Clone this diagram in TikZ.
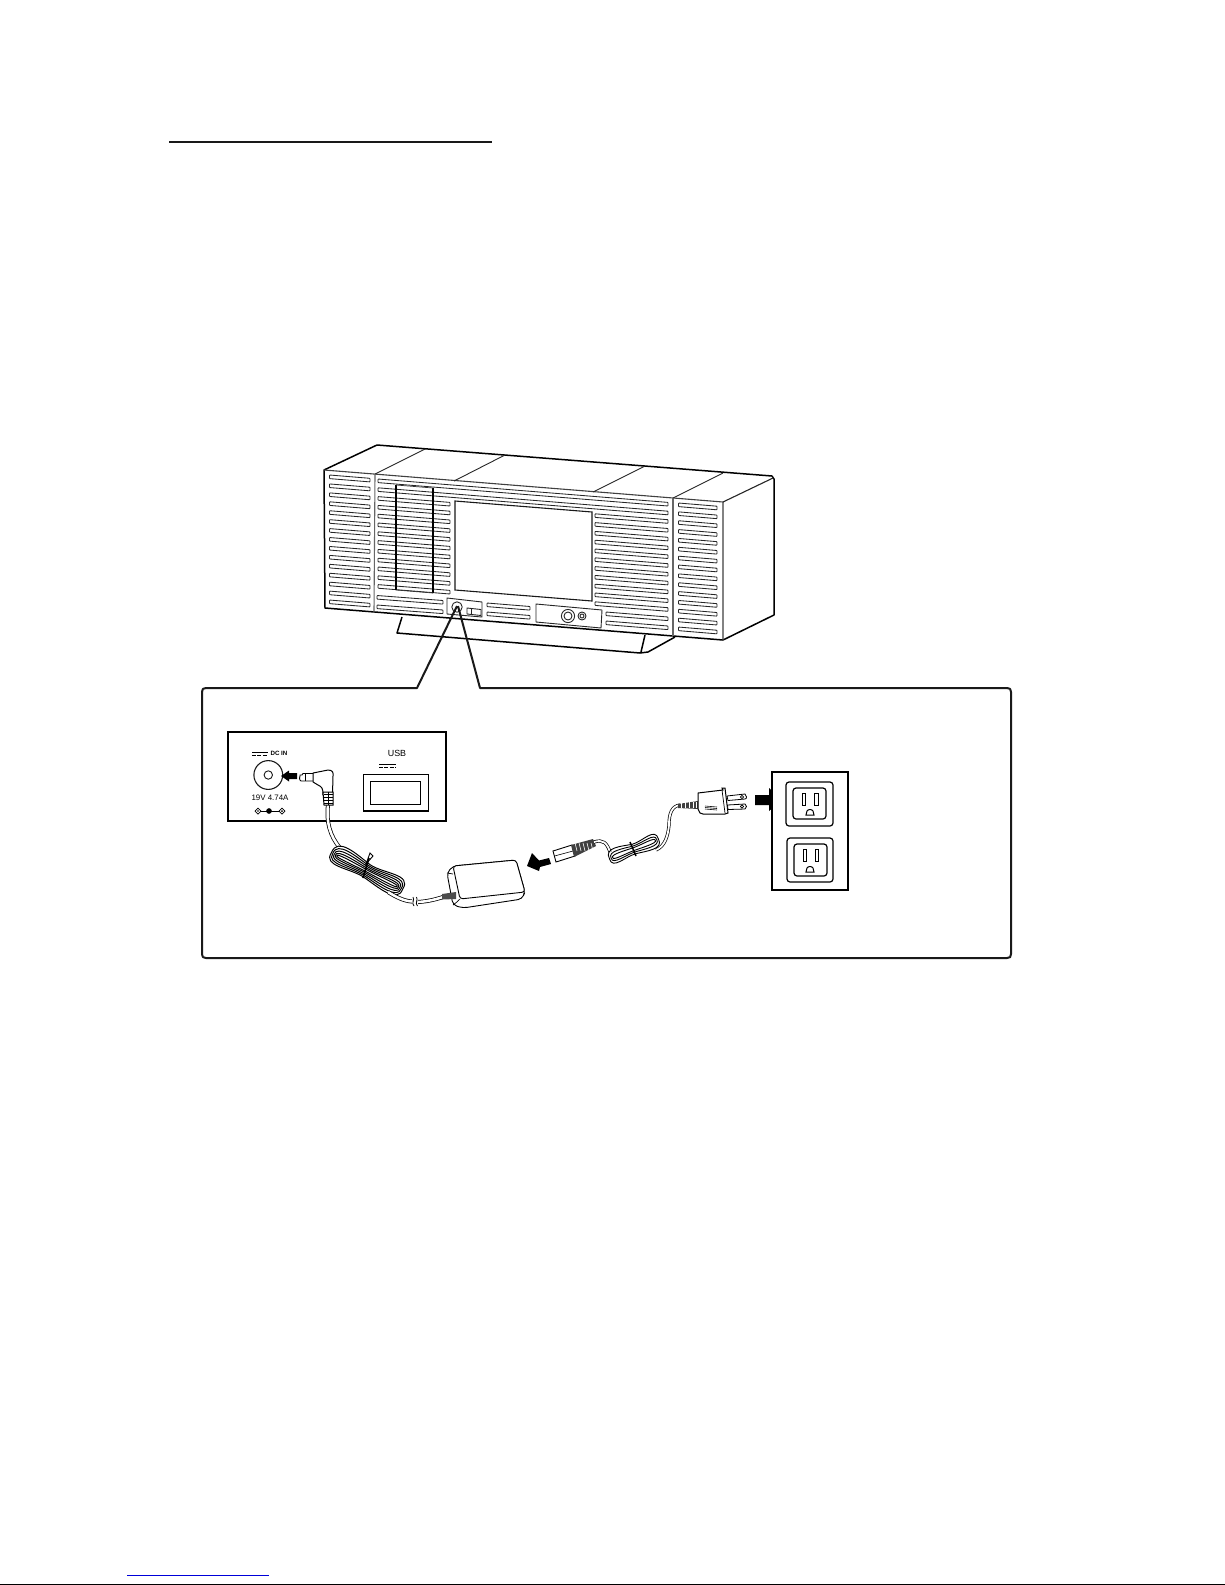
\documentclass[tikz,border=0pt]{standalone}
\usepackage{fontspec}
\setmainfont{Liberation Sans}
\tikzset{
  outline/.style={line width=0.75pt,color=black,line join=round},
  thinline/.style={line width=0.45pt,color=black!85,line join=round},
  slotline/.style={line width=0.42pt,color=black!85,fill=white,rounded corners=0.3pt},
  frameline/.style={line width=1pt,color=black!90,line join=round},
  cablewire/.style={double=white,double distance=1.25pt,line width=0.38pt,color=black},
  thincable/.style={double=white,double distance=0.9pt,line width=0.35pt,color=black},
  blockarrow/.style={fill=black,draw=none},
  label/.style={inner sep=0pt,text=black},
  hatch/.style={line width=0.3pt,color=black}
}
\newcommand{\slotat}[4]{\draw[slotline] (#1,#2) -- (#3,#4) -- (#3,#4+3.6) -- (#1,#2+3.6) -- cycle;}
\newcommand{\strand}{(-40,0) .. controls (-42,-18) and (-16,-10) .. (0,-7) .. controls (16,-5) and (42,-18) .. (40,0) .. controls (42,16) and (16,9) .. (0,7) .. controls (-16,5) and (-42,16) .. (-40,0) -- cycle}
\begin{document}
\begin{tikzpicture}[x=0.5pt,y=-0.5pt]
\useasboundingbox (0,0) rectangle (1225,1585);
% title rule and page-foot marks
\draw[line width=0.6pt,color=black!90] (169,142) -- (492,142);
\draw[line width=0.5pt,color=blue!85!black] (127,1575) -- (269,1575);
\draw[line width=0.5pt,color=black] (0,1584.5) -- (1225,1584.5);

% ---- stand (behind the body) ----
\draw[outline] (402,617) -- (397,633) -- (640,653) -- (648,652) -- (675,637);
\draw[outline] (645,635) -- (641,652);

% ---- body ----
\draw[outline,fill=white] (324,470) -- (377,445) -- (772,476) -- (774,479) -- (774,615) -- (723,640) -- (325,608) -- cycle;
\draw[line width=0.55pt,color=black!75] (324,470) -- (723,502) -- (723,640);
\draw[line width=0.55pt,color=black!85] (723,502) -- (773,478);
\draw[line width=0.55pt,color=black!60] (375,474) -- (374,612);
\draw[line width=0.55pt,color=black!60] (673,498) -- (673,636);
\draw[thinline] (375,474) -- (425,449);
\draw[thinline] (454,481) -- (505,455);
\draw[thinline] (593,492) -- (645,466);
\draw[thinline] (673,498) -- (723,473);
% side-column slots
\foreach \k in {0,...,14}{
  \pgfmathsetmacro{\ya}{475+8.93*\k}
  \pgfmathsetmacro{\yb}{\ya+3.3}
  \slotat{329.5}{\ya}{370}{\yb}
  \pgfmathsetmacro{\yc}{503+8.86*\k}
  \pgfmathsetmacro{\yd}{\yc+3.2}
  \slotat{678.5}{\yc}{717}{\yd}
}
% long rows
\foreach \k in {0,1}{
  \pgfmathsetmacro{\ya}{479+8.8*\k}
  \pgfmathsetmacro{\yb}{\ya+23.4}
  \slotat{378}{\ya}{668}{\yb}
}
% rows left and right of the screen
\foreach \k in {2,...,12}{
  \pgfmathsetmacro{\ya}{479+8.8*\k}
  \pgfmathsetmacro{\yb}{\ya+5.8}
  \slotat{378}{\ya}{450}{\yb}
  \pgfmathsetmacro{\yc}{\ya+17.2}
  \pgfmathsetmacro{\yd}{\yc+5.9}
  \slotat{595}{\yc}{668}{\yd}
}
% lower rows
\slotat{377}{595.5}{443}{600.5}
\slotat{377}{605}{443}{610}
\slotat{606}{612}{668}{617}
\slotat{606}{621}{668}{626}
\slotat{487}{603}{530}{606.5}
\slotat{487}{612}{530}{615.5}
% door outline over the left rows
\draw[line width=0.6pt,color=black] (396,485) -- (396,590);
\draw[line width=0.6pt,color=black] (433,488) -- (433,593);
\draw[line width=0.35pt,color=black!80] (396,485) -- (433,488);
\draw[line width=0.35pt,color=black!80] (396,590) -- (433,593);
% screen
\draw[line width=0.55pt,color=black!90,fill=white] (455,501) -- (592,512) -- (592,601) -- (455,590) -- cycle;
% small panels
\draw[thinline,fill=white] (447,598) -- (482,602) -- (482,617) -- (447,614) -- cycle;
\draw[thinline] (457,607) circle[radius=2.6pt];
\draw[thinline] (467,608) -- (481,609.5) -- (481,615.5) -- (467,614) -- cycle;
\draw[thinline] (471,608.5) -- (471,614.5);
\draw[thinline,fill=white] (536,604) -- (602,610) -- (601,628) -- (536,622) -- cycle;
\draw[thinline] (568,616) circle[radius=3.3pt];
\draw[thinline] (568,616) circle[radius=2pt];
\draw[thinline] (582,616) circle[radius=2pt];
\draw[thinline] (582,616) circle[radius=1pt];

% ---- call-out frame ----
\draw[frameline] (457,606) -- (417,688) -- (206,688) .. controls (203,688) and (202,689) .. (202,692) -- (202,954)
  .. controls (202,957) and (203,958) .. (206,958) -- (1007,958) .. controls (1010,958) and (1011,957) .. (1011,954)
  -- (1011,692) .. controls (1011,689) and (1010,688) .. (1007,688) -- (480,688) -- (458,606);

% ---- DC IN / USB panel ----
\draw[line width=1pt,color=black] (228,732) rectangle (446,821);
\draw[line width=0.4pt] (252,752.7) -- (268,752.7);
\draw[line width=0.4pt,dash pattern=on 2pt off 0.7pt] (252,755.5) -- (268,755.5);
\node[label,font=\bfseries\fontsize{3.1}{3.5}\selectfont] (dcin) at (279,753) {DC IN};
\draw[line width=0.55pt,color=black!90] (268.3,775) circle[radius=7.2pt];
\draw[line width=0.45pt,color=black!90] (268.3,775) circle[radius=2.1pt];
\node[label,font=\fontsize{3.95}{4.5}\selectfont] (rating) at (270,798) {19V 4.74A};
\draw[line width=0.35pt] (258,811) -- (282,811);
\draw[line width=0.35pt,fill=white] (258,808) -- (261,811) -- (258,814) -- (255,811) -- cycle;
\draw[line width=0.35pt,fill=white] (282,808) -- (285,811) -- (282,814) -- (279,811) -- cycle;
\fill (258,811) circle[radius=0.4pt];
\fill (282,811) circle[radius=0.5pt];
\draw[line width=0.35pt,fill=black] (269,811) circle[radius=1.2pt];

\node[label,font=\fontsize{4.45}{5}\selectfont] (usb) at (397,753.5) {USB};
\draw[line width=0.4pt] (379,764) -- (396,764);
\draw[line width=0.4pt,dash pattern=on 2pt off 0.7pt] (379,767) -- (396,767);
\draw[line width=0.7pt] (363.3,774.3) rectangle (428.3,811);
\draw[line width=0.5pt] (370.3,781) rectangle (420.7,804);

% arrow into DC IN
\fill[blockarrow] (297,773) -- (289,773) -- (289,770.5) -- (281,776) -- (289,781.5) -- (289,779) -- (297,779) -- cycle;

% ---- cable from L-plug to coil ----
\draw[cablewire] (328,805) .. controls (326,822) and (330,836) .. (340,848) .. controls (346,855) and (354,860) .. (365,866);
% coil
\begin{scope}[shift={(367,871)},rotate=-27]
  \begin{scope}[yscale=1]
    \fill[white] \strand;
  \end{scope}
  \foreach \s in {1,0.78,0.56,0.34,0.14}{
    \begin{scope}[yscale=\s,xscale={0.82+0.18*\s}]
      \draw[line width=0.5pt,color=black] \strand;
    \end{scope}
  }
\end{scope}
% tie
\draw[line width=0.45pt,fill=white] (370,853) -- (366,864) -- (373,856) -- cycle;
\draw[line width=0.8pt] (369,858) -- (363,878);
% cable coil -> adapter with break
\draw[cablewire] (388,892) .. controls (396,897) and (404,901) .. (412,901.5);
\draw[cablewire] (418,902) .. controls (426,901.5) and (434,900) .. (443,897);
\draw[line width=0.4pt] (413,897) .. controls (415,900) and (411,903) .. (414,906);
\draw[line width=0.4pt] (416.5,897) .. controls (418.5,900) and (414.5,903) .. (417.5,906);

% L-plug
\draw[line width=0.45pt,fill=white] (302,775) -- (300,775) -- (300,776) .. controls (299,779) and (300,781) .. (301,781) -- (314,781) -- (314,773.5) -- (303,773.5) -- cycle;
\draw[line width=0.3pt] (305,773.5) -- (305,781);
\draw[line width=0.5pt,fill=white] (313,773) -- (328,770) .. controls (333,770) and (333.5,773) .. (333,776) -- (332.5,795) -- (323,795)
  .. controls (323,788) and (322,787) .. (318,785) -- (313,782) -- cycle;
\draw[line width=0.5pt,fill=white] (323,792) -- (333,792) -- (333,805) -- (324,805) -- cycle;
\foreach \y in {794,797,800,803}{ \draw[hatch] (323.5,\y) -- (332.5,\y); }
\draw[hatch] (328,792) -- (328,805);

% ---- adapter ----
\draw[line width=0.45pt,fill=white,rounded corners=2pt] (453,866) -- (447,873) -- (453,905) -- (463,908) -- (522,899) -- (525,892) -- (516,860) -- cycle;
\draw[line width=0.45pt,fill=white,rounded corners=1.5pt] (453,866) -- (516,860) -- (525,892) -- (460,899) -- cycle;
\draw[line width=0.35pt] (453,905) .. controls (456,903) and (458,901) .. (460,899);
\draw[line width=0.35pt] (447,873) -- (453,874);
\fill[black!70] (442,894) -- (456,892) -- (456,899) -- (442,899.5) -- cycle;

% arrow to adapter
\fill[blockarrow] (549,858) -- (539,860.5) -- (532,853) -- (527,866) -- (539,871) -- (540,867) -- (551,864) -- cycle;

% ---- mains lead: barrel connector, coil, plug ----
\draw[line width=0.45pt,fill=white] (553,851) -- (572,845) -- (575,856) -- (556,862) -- cycle;
\draw[line width=0.3pt] (554.5,856) -- (573,851);
\fill[black!75] (571,845) -- (593,839) -- (596,846) -- (574,857) -- cycle;
\foreach \t in {575,579,583,587,591}{ \draw[line width=0.3pt,color=white] (\t,843) -- (\t+2,851); }
\draw[thincable] (594,842) .. controls (603,839) and (607,843) .. (610,852);
% small coil
\begin{scope}[shift={(634,849)},rotate=22]
  \foreach \s in {1,0.62,0.28}{
    \begin{scope}[yscale={\s*0.72},xscale={0.66*(0.82+0.18*\s)}]
      \draw[line width=0.45pt,color=black] \strand;
    \end{scope}
  }
\end{scope}
\draw[line width=0.75pt] (630,842) -- (636,856);
\draw[thincable] (656,850) .. controls (665,846) and (668,836) .. (669,825) .. controls (669,813) and (672,806) .. (680,805);
% plug
\fill[black!75] (678,804) -- (698,801) -- (699,809) -- (678,808) -- cycle;
\foreach \t in {681,685,689,693,696}{ \draw[line width=0.3pt,color=white] (\t,802) -- (\t,808); }
\draw[line width=0.5pt,fill=white] (698,793) -- (723,790) -- (722,788) -- (725,788) -- (728,813) -- (725,814) -- (703,814) -- (700,813) -- (698,809) -- cycle;
\draw[line width=0.35pt] (722,790) -- (725,813);
\foreach \y in {806,807.5,809}{ \draw[hatch] (705,\y) -- (717,\y+1); }
\draw[line width=0.4pt,fill=white] (727,796) -- (745,794) .. controls (747,795) and (747,799) .. (745,799) -- (728,800.5) -- cycle;
\draw[line width=0.4pt,fill=white] (727.5,805) -- (745,804) .. controls (747,805) and (747,808) .. (745,809) -- (728,809.5) -- cycle;
\draw[line width=0.3pt] (742,797) circle[radius=0.8pt];
\draw[line width=0.3pt] (742,806.5) circle[radius=0.8pt];

% arrow into outlet
\fill[blockarrow] (755,795) -- (769,795) -- (769,788) -- (782,800) -- (769,811) -- (769,805) -- (755,805) -- cycle;

% ---- wall outlets ----
\draw[line width=0.9pt,color=black,fill=white] (772,772) rectangle (848,890);
\draw[line width=0.6pt,rounded corners=1.5pt] (786,782) rectangle (833,826);
\draw[line width=0.6pt,rounded corners=1.5pt] (793,788) rectangle (826,819);
\draw[line width=0.5pt] (802,793) rectangle (805,805);
\draw[line width=0.5pt] (814,793) rectangle (818,805);
\draw[line width=0.5pt] (806,815) -- (807,811) .. controls (808,809) and (812,809) .. (813,811) -- (814,815) -- cycle;
\draw[line width=0.6pt,rounded corners=1.5pt] (787,838) rectangle (833,882);
\draw[line width=0.6pt,rounded corners=1.5pt] (794,844) rectangle (827,876);
\draw[line width=0.5pt] (803,849) rectangle (806,861);
\draw[line width=0.5pt] (815,849) rectangle (818,861);
\draw[line width=0.5pt] (806,872) -- (807,868) .. controls (808,866) and (812,866) .. (813,868) -- (814,872) -- cycle;
\end{tikzpicture}
\end{document}
